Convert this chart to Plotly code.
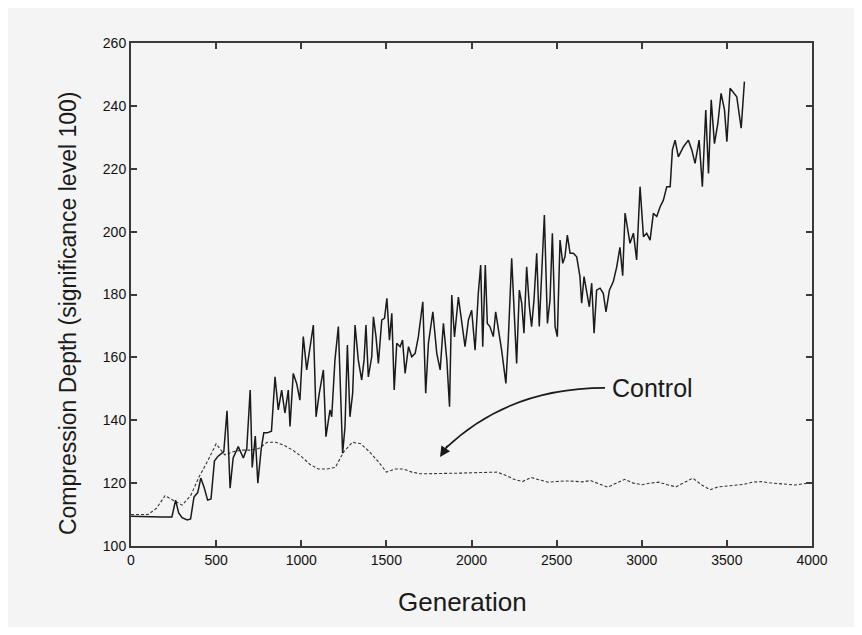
import plotly.graph_objects as go

# ---- data ----
gen_main = [0, 60, 120, 180, 240, 262, 280, 300, 330, 350, 370, 392, 410, 430, 450, 470, 490, 510, 545, 564,
            582, 600, 630, 660, 680, 700, 712, 730, 745, 765, 780, 800, 825, 846, 865, 885, 904, 924, 934, 953,
            973, 992, 1012, 1032, 1051, 1071, 1087, 1106, 1130, 1145, 1169, 1179, 1198, 1218, 1243, 1257, 1271,
            1286, 1302, 1316, 1335, 1355, 1369, 1380, 1394, 1414, 1424, 1439, 1453, 1473, 1489, 1503, 1518, 1532,
            1546, 1561, 1581, 1595, 1610, 1630, 1649, 1669, 1688, 1714, 1731, 1747, 1773, 1796, 1816, 1835, 1855,
            1871, 1884, 1900, 1923, 1942, 1962, 1982, 2001, 2021, 2040, 2054, 2066, 2081, 2093, 2108, 2128, 2142,
            2157, 2177, 2202, 2216, 2236, 2249, 2265, 2281, 2295, 2308, 2324, 2340, 2353, 2367, 2383, 2398, 2412,
            2428, 2446, 2461, 2475, 2491, 2504, 2520, 2536, 2549, 2563, 2579, 2598, 2618, 2637, 2647, 2661, 2676,
            2692, 2706, 2720, 2735, 2755, 2774, 2790, 2810, 2833, 2853, 2872, 2888, 2902, 2931, 2951, 2970, 2990,
            3010, 3029, 3049, 3068, 3088, 3108, 3127, 3147, 3167, 3180, 3196, 3215, 3245, 3274, 3294, 3313, 3337,
            3356, 3376, 3392, 3408, 3427, 3447, 3466, 3486, 3500, 3519, 3539, 3558, 3584, 3603]
depth_main = [109.5, 109.5, 109.3, 109.2, 109.2, 114.6, 110.5, 109.0, 108.3, 108.6, 115.6, 117.0, 121.6, 118.5,
              114.6, 115.0, 127.0, 128.5, 130.0, 143.0, 118.4, 128.0, 131.6, 128.0, 131.0, 149.6, 125.0, 135.0,
              120.0, 131.0, 136.0, 136.0, 136.5, 153.8, 143.3, 149.6, 142.3, 149.6, 138.0, 154.9, 151.7, 146.4,
              166.6, 156.0, 162.3, 170.3, 141.1, 148.6, 156.0, 134.8, 143.3, 141.1, 159.2, 169.8, 129.5, 137.9,
              163.9, 141.1, 148.6, 170.3, 159.2, 152.8, 159.2, 170.3, 153.8, 160.2, 172.9, 166.6, 158.1, 171.9,
              172.4, 178.8, 165.5, 174.0, 149.6, 164.5, 163.4, 165.5, 154.9, 163.4, 160.2, 161.3, 166.6, 177.7,
              148.6, 164.5, 174.5, 161.3, 156.0, 170.8, 159.2, 144.3, 179.8, 166.5, 179.2, 170.8, 163.4, 171.9,
              175.0, 162.3, 180.4, 189.4, 163.4, 189.4, 170.8, 169.8, 166.6, 174.5, 169.8, 162.3, 151.7, 165.5,
              191.5, 175.0, 158.1, 181.4, 177.2, 167.7, 188.8, 176.1, 169.8, 178.2, 193.1, 169.8, 186.7, 205.3,
              170.8, 178.2, 199.5, 169.8, 166.6, 197.3, 189.9, 192.0, 198.9, 193.1, 193.1, 192.0, 185.7, 177.2,
              185.7, 181.4, 176.1, 183.6, 167.7, 181.4, 182.0, 180.4, 174.5, 181.4, 184.1, 188.8, 195.0, 186.0,
              205.9, 196.3, 199.5, 191.0, 214.3, 198.4, 199.5, 197.3, 205.8, 204.8, 207.9, 210.0, 214.3, 214.3,
              226.0, 229.1, 223.8, 227.0, 229.1, 226.0, 221.7, 229.1, 214.3, 238.7, 218.5, 241.9, 228.0, 234.4,
              244.0, 238.7, 228.6, 245.6, 244.0, 242.9, 232.9, 247.7]

gen_control = list(range(0, 4001, 50))
depth_control = [110, 110, 110, 112, 116, 114.5, 113, 116, 122, 127, 132.5, 129, 130, 130.5, 130.5, 131, 133, 133,
                 132, 130.5, 128.5, 126, 124.5, 124.5, 125, 130, 133, 132.5, 130, 127, 123.5, 124.5, 124.5, 123.5,
                 123, 123, 123, 123, 123, 123.2, 123.3, 123.3, 123.5, 123.5, 122.5, 121.2, 120.5, 121.8, 121,
                 120.3, 120.5, 120.7, 120.6, 120.4, 120.8, 119.8, 118.7, 120, 121.2, 120, 119.5, 120, 120.3, 119.5,
                 118.8, 120.2, 121.6, 119.5, 117.9, 118.8, 119, 119.2, 119.6, 120.3, 120.5, 120.1, 119.8, 119.6,
                 119.4, 119.8, 120]

x_ticks = [0, 500, 1000, 1500, 2000, 2500, 3000, 3500, 4000]
y_ticks = [100, 120, 140, 160, 180, 200, 220, 240, 260]

x_title = "Generation"
y_title = "Compression Depth (significance level 100)"
label_text = "Control"

# ---- figure ----
FONT = "Liberation Sans, Arial, sans-serif"
INK = "#1a1a1a"
BG = "#f4f4f4"

fig = go.Figure()
fig.add_trace(go.Scatter(x=gen_control, y=depth_control, mode="lines",
                         line=dict(color="#333333", width=1.1, dash="3px,2px"),
                         showlegend=False, hoverinfo="skip"))
fig.add_trace(go.Scatter(x=gen_main, y=depth_main, mode="lines",
                         line=dict(color=INK, width=1.5),
                         showlegend=False, hoverinfo="skip"))

# curved arrow pointing at the control line
fig.add_shape(type="path", xref="x", yref="y",
              path="M 2784,150.3 Q 2220,150.3 1850,131.2",
              line=dict(color=INK, width=1.6))
fig.add_annotation(x=1815, y=128.3, ax=1865, ay=132.4, xref="x", yref="y",
                   axref="x", ayref="y", text="", showarrow=True,
                   arrowhead=2, arrowsize=1.3, arrowwidth=1.6, arrowcolor=INK, standoff=0)
fig.add_annotation(x=2815, y=150.3, xref="x", yref="y", text=label_text,
                   showarrow=False, xanchor="left", yanchor="middle",
                   font=dict(family=FONT, size=25, color=INK))

# axis titles placed as annotations to match the reference positions
fig.add_annotation(x=0.4875, y=-0.111, xref="paper", yref="paper", text=x_title,
                   showarrow=False, xanchor="center", yanchor="middle",
                   font=dict(family=FONT, size=26, color=INK))
fig.add_annotation(x=-0.0925, y=0.463, xref="paper", yref="paper", text=y_title,
                   showarrow=False, xanchor="center", yanchor="middle", textangle=-90,
                   font=dict(family=FONT, size=23, color=INK))

axis_common = dict(showline=True, linecolor="#3a3a3a", linewidth=2, mirror="allticks",
                   ticks="inside", ticklen=6, tickwidth=1.5, tickcolor="#3a3a3a",
                   showgrid=False, zeroline=False,
                   tickfont=dict(family=FONT, size=14, color="#111111"))

fig.update_xaxes(range=[0, 4000], tickvals=x_ticks, ticktext=[str(v) for v in x_ticks],
                 **axis_common)
fig.update_yaxes(range=[100, 260], tickvals=y_ticks, ticktext=[str(v) for v in y_ticks],
                 **axis_common)

# page body adds an 8px margin, so the figure is sized/offset to compensate
fig.update_layout(width=846, height=619,
                  margin=dict(l=123, r=42, t=35, b=81, autoexpand=False),
                  paper_bgcolor=BG, plot_bgcolor=BG,
                  font=dict(family=FONT, color=INK))

fig.write_html("out.html")
